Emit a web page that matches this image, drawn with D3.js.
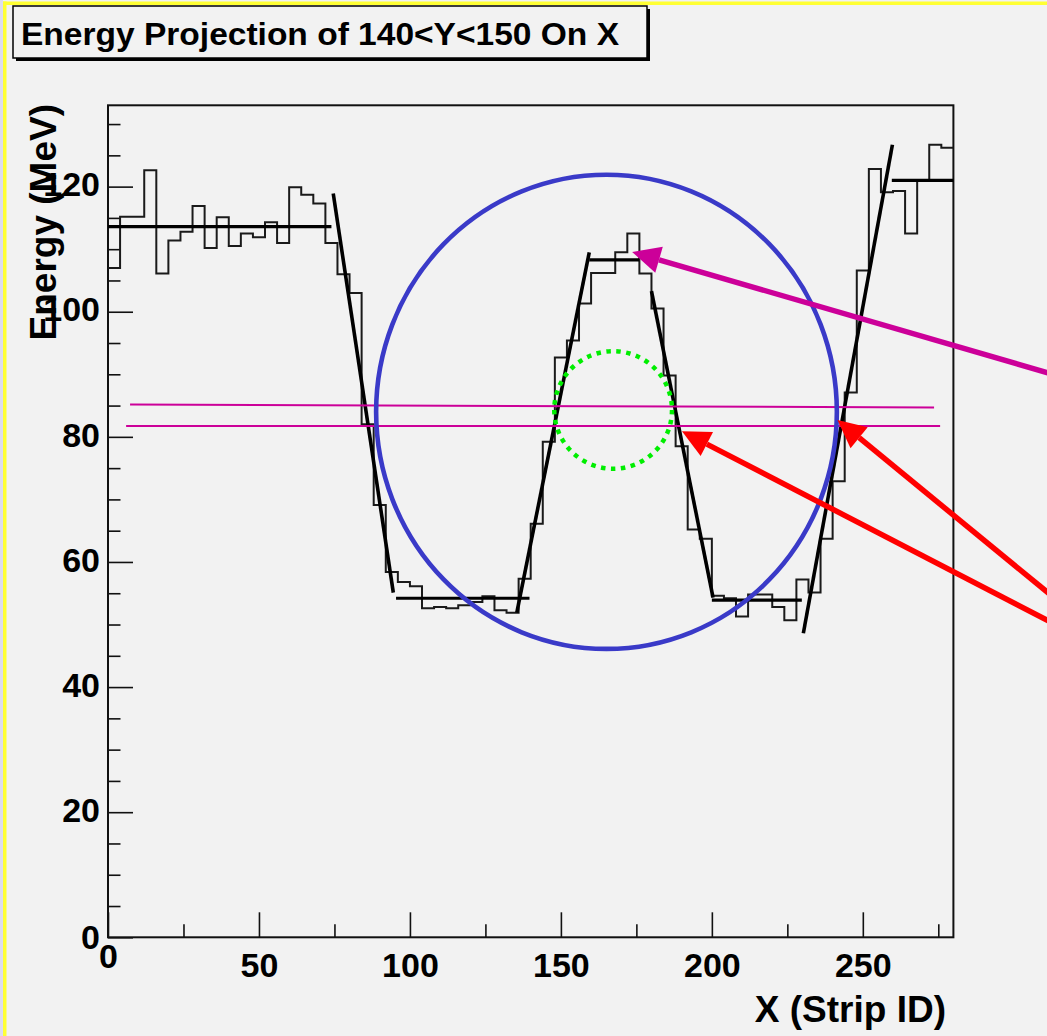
<!DOCTYPE html>
<html>
<head>
<meta charset="utf-8">
<script src="https://cdn.jsdelivr.net/npm/d3@7"></script>
<style>
  body { margin: 0; background: #f2f2f2; }
  svg { display: block; }
  text { font-family: 'Liberation Sans', Arial, Helvetica, sans-serif; font-weight: bold; }
</style>
</head>
<body>
<svg id="chart" width="1047" height="1036"></svg>
<script>
// histogram: 70 bins of 4 strips each, energy in MeV
const binWidth = 4
const energy = [
  107.0, 115.2, 115.2, 122.6, 106.1, 111.4, 112.8, 116.9, 110.2, 115.1,
  110.5, 112.5, 111.9, 114.3, 111.0, 119.9, 118.7, 117.3, 111.0, 106.0,
  103.0, 82.0, 69.1, 58.4, 56.8, 56.1, 52.6, 52.8, 52.6, 53.1,
  53.6, 54.5, 52.3, 51.9, 57.3, 66.1, 79.2, 92.7, 95.4, 101.3,
  106.2, 106.2, 109.5, 112.5, 106.1, 100.5, 89.8, 78.5, 65.2, 63.7,
  54.6, 54.2, 51.3, 54.8, 54.8, 52.8, 50.7, 57.2, 55.1, 63.7,
  72.9, 87.1, 106.6, 122.8, 119.1, 119.3, 112.5, 121.0, 126.7, 126.2
]

// linear fits on the edges [x0, e0, x1, e1]
const fitLines = [
  [74.6, 118.9, 94.5, 55.1],
  [135.4, 51.9, 159.4, 109.5],
  [180.0, 103.3, 200.4, 54.3],
  [230.3, 48.6, 259.8, 126.7]
]

// flat levels [x0, x1, e]
const plateaus = [
  [0, 74, 113.6],
  [95.4, 139.6, 54.2],
  [159.4, 175.9, 108.3],
  [200, 229.8, 53.9],
  [259.6, 280, 121.0]
]

const xMajor = [0, 50, 100, 150, 200, 250]
const xMinor = [25, 75, 125, 175, 225, 275]
const yMajor = [0, 20, 40, 60, 80, 100, 120]
const yMinor = d3.range(5, 131, 5).filter(d => d % 20 !== 0)

// annotations, in data units
const halfLines = [
  [7.3, 85.17, 273.6, 84.69],
  [6.0, 81.73, 275.6, 81.73]
]
const bigEllipse = { cx: 165.1, cy: 84.0, rx: 76.3, ry: 37.9 }
const smallCircle = { cx: 167.3, cy: 84.3, rx: 19.5, ry: 9.4 }
const arrows = [
  { tip: [173.6, 109.55], tail: [318.6, 89.2], color: '#cc0099' },
  { tip: [190.1, 80.9], tail: [318.6, 48.8], color: '#ff0000' },
  { tip: [241.6, 82.7], tail: [318.6, 52.2], color: '#ff0000' }
]

const svg = d3.select('#chart')

const x = d3.scaleLinear().domain([0, 280]).range([108, 953.4])
const y = d3.scaleLinear().domain([0, 133]).range([937.3, 105.3])

// page frame
svg.append('rect').attr('width', 1047).attr('height', 1036).attr('fill', '#f2f2f2')
svg.append('rect').attr('x', 0).attr('y', 0).attr('width', 3).attr('height', 1036).attr('fill', '#dcdcf0')
svg.append('rect').attr('x', 3).attr('y', 1.5).attr('width', 1044).attr('height', 3.5).attr('fill', '#ffff33')
svg.append('rect').attr('x', 3).attr('y', 1.5).attr('width', 3.5).attr('height', 1036).attr('fill', '#ffff33')

// title box
svg.append('rect').attr('x', 16).attr('y', 9).attr('width', 634).attr('height', 52).attr('fill', '#000')
svg.append('rect')
  .attr('x', 13).attr('y', 6).attr('width', 634).attr('height', 52)
  .attr('fill', '#f2f2f2').attr('stroke', '#000').attr('stroke-width', 1.5)
svg.append('text')
  .attr('x', 21).attr('y', 45)
  .attr('font-size', 32)
  .attr('textLength', 598).attr('lengthAdjust', 'spacingAndGlyphs')
  .text('Energy Projection of 140<Y<150 On X')

// axes
const xAxis = svg.append('g').attr('transform', `translate(0,${y(0)})`)
xAxis.call(d3.axisBottom(x).tickValues(xMajor).tickSize(-25).tickPadding(16).tickFormat(d3.format('d')))
xAxis.append('g').call(d3.axisBottom(x).tickValues(xMinor).tickSize(-13).tickFormat(''))

const yAxis = svg.append('g').attr('transform', `translate(${x(0)},0)`)
yAxis.call(d3.axisLeft(y).tickValues(yMajor).tickSize(-25).tickPadding(8).tickFormat(d3.format('d')))
yAxis.append('g').call(d3.axisLeft(y).tickValues(yMinor).tickSize(-12.5).tickFormat(''))

svg.selectAll('.domain').remove()
svg.selectAll('.tick line').attr('stroke', '#111').attr('stroke-width', 1.6)
svg.selectAll('.tick text')
  .attr('font-size', 34)
  .attr('font-family', "'Liberation Sans', Arial, sans-serif")
  .attr('fill', '#000')
yAxis.selectAll('.tick text').attr('dy', '0.27em')
// ROOT nudges the zero labels
xAxis.selectAll('.tick text').filter(d => d === 0).attr('y', 7)
yAxis.selectAll('.tick text').filter(d => d === 0).attr('dy', '0.32em')

svg.append('rect')
  .attr('x', x(0)).attr('y', y(133))
  .attr('width', x(280) - x(0)).attr('height', y(0) - y(133))
  .attr('fill', 'none').attr('stroke', '#111').attr('stroke-width', 2)

svg.append('text')
  .attr('x', 946).attr('y', 1022)
  .attr('text-anchor', 'end')
  .attr('font-size', 37)
  .text('X (Strip ID)')

svg.append('text')
  .attr('transform', 'translate(56,104) rotate(-90)')
  .attr('text-anchor', 'end')
  .attr('font-size', 37)
  .text('Energy (MeV)')

// histogram outline
const stepPts = energy.map((e, i) => [i * binWidth, e])
stepPts.push([energy.length * binWidth, energy[energy.length - 1]])
const step = d3.line()
  .x(d => x(d[0]))
  .y(d => y(d[1]))
  .curve(d3.curveStepAfter)

svg.append('path')
  .attr('d', step(stepPts))
  .attr('fill', 'none')
  .attr('stroke', '#1a1a1a')
  .attr('stroke-width', 2)

svg.selectAll('.fit')
  .data(fitLines)
  .enter()
  .append('line')
  .attr('class', 'fit')
  .attr('x1', d => x(d[0])).attr('y1', d => y(d[1]))
  .attr('x2', d => x(d[2])).attr('y2', d => y(d[3]))
  .attr('stroke', '#000')
  .attr('stroke-width', 3.6)

svg.selectAll('.plateau')
  .data(plateaus)
  .enter()
  .append('line')
  .attr('class', 'plateau')
  .attr('x1', d => x(d[0])).attr('x2', d => x(d[1]))
  .attr('y1', d => y(d[2])).attr('y2', d => y(d[2]))
  .attr('stroke', '#000')
  .attr('stroke-width', 3.2)

// annotations
svg.selectAll('.half')
  .data(halfLines)
  .enter()
  .append('line')
  .attr('class', 'half')
  .attr('x1', d => x(d[0])).attr('y1', d => y(d[1]))
  .attr('x2', d => x(d[2])).attr('y2', d => y(d[3]))
  .attr('stroke', '#cc0099')
  .attr('stroke-width', 2)

const pxRx = e => x(e.rx) - x(0)
const pxRy = e => y(0) - y(e.ry)

svg.append('ellipse')
  .attr('cx', x(bigEllipse.cx)).attr('cy', y(bigEllipse.cy))
  .attr('rx', pxRx(bigEllipse)).attr('ry', pxRy(bigEllipse))
  .attr('fill', 'none')
  .attr('stroke', '#3a3ac8')
  .attr('stroke-width', 4.6)

svg.append('ellipse')
  .attr('cx', x(smallCircle.cx)).attr('cy', y(smallCircle.cy))
  .attr('rx', pxRx(smallCircle)).attr('ry', pxRy(smallCircle))
  .attr('fill', 'none')
  .attr('stroke', '#00ee00')
  .attr('stroke-width', 4.5)
  .attr('stroke-dasharray', '4.5 5.5')

const headLen = 28
const headHalf = 13.5
arrows.forEach(a => {
  const tx = x(a.tip[0])
  const ty = y(a.tip[1])
  const sx = x(a.tail[0])
  const sy = y(a.tail[1])
  const len = Math.hypot(sx - tx, sy - ty)
  const ux = (sx - tx) / len
  const uy = (sy - ty) / len
  const bx = tx + ux * headLen
  const by = ty + uy * headLen

  svg.append('line')
    .attr('x1', bx).attr('y1', by)
    .attr('x2', sx).attr('y2', sy)
    .attr('stroke', a.color)
    .attr('stroke-width', 5.5)

  svg.append('polygon')
    .attr('points', [
      [tx, ty],
      [bx - uy * headHalf, by + ux * headHalf],
      [bx + uy * headHalf, by - ux * headHalf]
    ].map(p => p.join(',')).join(' '))
    .attr('fill', a.color)
})
</script>
</body>
</html>
